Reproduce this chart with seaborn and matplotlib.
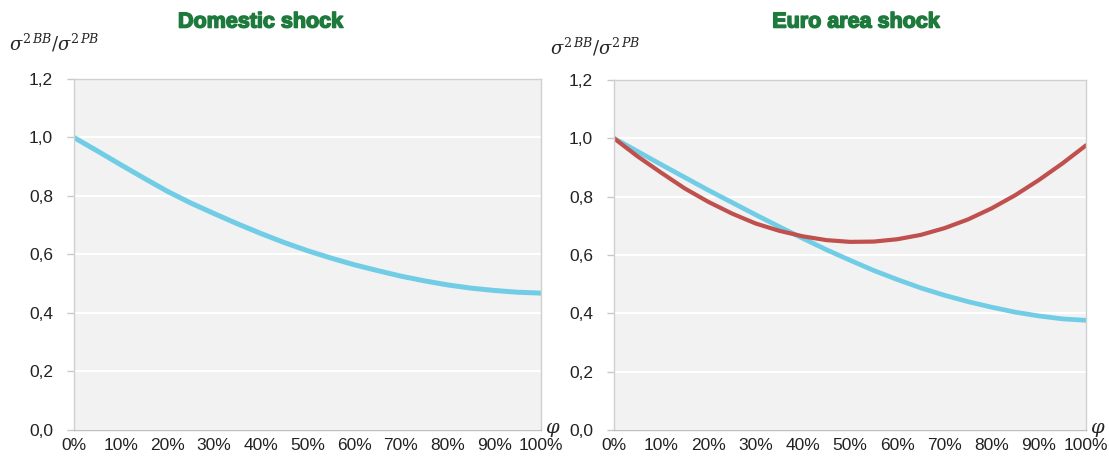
import numpy as np
import pandas as pd
import matplotlib.pyplot as plt
import matplotlib.patheffects as pe
import seaborn as sns

# share of phi, 0% .. 100% in 5% steps
phi = [0.00, 0.05, 0.10, 0.15, 0.20, 0.25, 0.30, 0.35, 0.40, 0.45, 0.50,
       0.55, 0.60, 0.65, 0.70, 0.75, 0.80, 0.85, 0.90, 0.95, 1.00]

# Domestic shock
dom_blue = [1.000, 0.954, 0.907, 0.861, 0.816, 0.776, 0.740, 0.705, 0.672, 0.641, 0.613,
            0.588, 0.565, 0.545, 0.526, 0.510, 0.496, 0.485, 0.477, 0.471, 0.468]

# Euro area shock
ea_blue = [1.000, 0.955, 0.910, 0.866, 0.822, 0.780, 0.738, 0.697, 0.657, 0.618, 0.582,
           0.547, 0.516, 0.487, 0.462, 0.440, 0.421, 0.404, 0.391, 0.381, 0.376]
ea_red = [1.000, 0.938, 0.882, 0.828, 0.782, 0.742, 0.708, 0.683, 0.664, 0.651, 0.645,
          0.646, 0.654, 0.669, 0.692, 0.722, 0.760, 0.805, 0.857, 0.914, 0.976]

titles = ['Domestic shock', 'Euro area shock']
yticks = [0.0, 0.2, 0.4, 0.6, 0.8, 1.0, 1.2]
xticks = [0.0, 0.1, 0.2, 0.3, 0.4, 0.5, 0.6, 0.7, 0.8, 0.9, 1.0]

blue = '#71CDE6'
red = '#C0504D'
green = '#1D7A3C'

sns.set_style('white', {'axes.facecolor': '#F2F2F2', 'axes.edgecolor': '#D0D0D0'})
plt.rcParams['font.family'] = ['Liberation Sans', 'DejaVu Sans']
plt.rcParams['mathtext.fontset'] = 'dejavuserif'

df_dom = pd.DataFrame({'phi': phi, 'val': dom_blue})
df_ea = pd.DataFrame({'phi': phi + phi, 'val': ea_blue + ea_red,
                      'series': ['blue'] * len(phi) + ['red'] * len(phi)})

fig = plt.figure(figsize=(11.09, 4.59), dpi=100)
ax1 = fig.add_axes([0.0667, 0.0632, 0.4211, 0.7647])
ax2 = fig.add_axes([0.5537, 0.0632, 0.4256, 0.7625])

sns.lineplot(data=df_dom, x='phi', y='val', color=blue, linewidth=3.6, ax=ax1)
sns.lineplot(data=df_ea, x='phi', y='val', hue='series',
             palette={'blue': blue, 'red': red}, linewidth=3.4, ax=ax2, legend=False)
# red line a bit thinner
ax2.lines[1].set_linewidth(3.0)
for ln in ax1.lines + ax2.lines:
    ln.set_solid_capstyle('round')
    ln.set_solid_joinstyle('round')

for ax in (ax1, ax2):
    ax.set_xlim(0, 1)
    ax.set_ylim(0, 1.2)
    ax.set_yticks(yticks)
    ax.set_yticklabels([f'{t:.1f}'.replace('.', ',') for t in yticks], fontsize=12.5,
                       color='#222222')
    ax.set_xticks(xticks)
    ax.set_xticklabels([f'{int(round(t * 100))}%' for t in xticks], fontsize=12.5,
                       color='#222222')
    ax.grid(axis='y', color='white', linewidth=1.5)
    ax.set_axisbelow(True)
    ax.tick_params(axis='y', length=5, width=1, color='#C8C8C8', pad=10, left=True)
    ax.tick_params(axis='x', length=0, pad=6)
    ax.set_xlabel('')
    ax.set_ylabel('')
    for s in ax.spines.values():
        s.set_color('#D0D0D0')
        s.set_linewidth(1)
    ax.spines['bottom'].set_color('#BFBFBF')
    ax.text(1.008, 0.0, r'$\varphi$', transform=ax.transAxes, fontsize=14,
            ha='left', va='center')

heavy = [pe.withStroke(linewidth=1.1, foreground=green)]
fig.text(0.235, 0.952, titles[0], color=green, fontsize=15.5, fontweight='heavy',
         ha='center', va='center', path_effects=heavy)
fig.text(0.772, 0.952, titles[1], color=green, fontsize=15.5, fontweight='heavy',
         ha='center', va='center', path_effects=heavy)

fig.text(0.008, 0.905, r'$\sigma^{2\,BB}/\sigma^{2\,PB}$', fontsize=13, ha='left', va='center')
fig.text(0.496, 0.897, r'$\sigma^{2\,BB}/\sigma^{2\,PB}$', fontsize=13, ha='left', va='center')

plt.savefig('out.png', dpi=100)
